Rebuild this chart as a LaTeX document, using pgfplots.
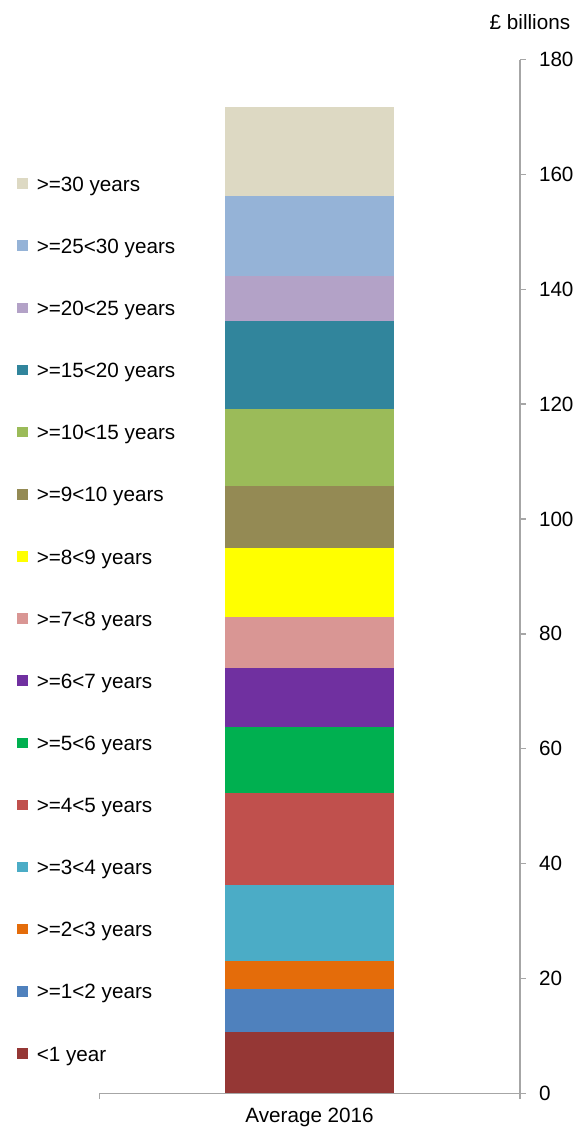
\documentclass[border=0pt]{standalone}
\usepackage{fontspec}
\setmainfont{Liberation Sans}
\usepackage{pgfplots}
\pgfplotsset{compat=1.18}
\definecolor{c1}{HTML}{953735}
\definecolor{c2}{HTML}{4F81BD}
\definecolor{c3}{HTML}{E46C0A}
\definecolor{c4}{HTML}{4BACC6}
\definecolor{c5}{HTML}{C0504D}
\definecolor{c6}{HTML}{00B050}
\definecolor{c7}{HTML}{7030A0}
\definecolor{c8}{HTML}{D99694}
\definecolor{c9}{HTML}{FFFF00}
\definecolor{c10}{HTML}{948A54}
\definecolor{c11}{HTML}{9BBB59}
\definecolor{c12}{HTML}{31859C}
\definecolor{c13}{HTML}{B3A2C7}
\definecolor{c14}{HTML}{95B3D7}
\definecolor{c15}{HTML}{DDD9C3}
\definecolor{axgray}{HTML}{A6A6A6}
\pgfplotsset{sq/.style={fill=#1, draw=none,
  legend image code/.code={\fill[#1] (0pt,-1.15pt) rectangle (5.3pt,4.15pt);}}}
\newcommand{\fs}{\fontsize{10.4}{12.5}\selectfont}
\begin{document}
\fs
\begin{tikzpicture}
\begin{axis}[
  scale only axis, width=211.5pt, height=520pt,
  ybar stacked, bar width=1,
  xmin=-1.245, xmax=1.245, ymin=0, ymax=180,
  axis y line*=right, axis x line*=bottom,
  ytick={0,20,...,180},
  xtick={0}, xticklabels={Average 2016},
  xtick style={draw=none},
  extra x ticks={-1.245,1.245}, extra x tick labels={},
  extra x tick style={xtick style={draw=axgray, line width=0.75pt}},
  ytick style={draw=axgray, line width=0.75pt},
  tick align=outside, major tick length=3pt,
  axis line style={draw=axgray, line width=0.75pt},
  /pgf/number format/assume math mode=true,
  ticklabel style={font=\fs, text=black},
  yticklabel style={xshift=3pt},
  xticklabel style={yshift=-1pt},
  clip=false,
  reverse legend,
  legend cell align=left,
  legend style={at={(0,1)}, anchor=north west, xshift=-41.5pt, yshift=-59.5pt,
    draw=none, fill=none, inner sep=0pt, row sep=22.96pt,
    font=\fs,
    nodes={inner sep=0pt, text height=6.5pt, text depth=1.8pt},
    /tikz/every odd column/.append style={column sep=4.5pt}},
]
\addplot[sq=c1] coordinates {(0,10.7)};
\addlegendentry{<1 year}
\addplot[sq=c2] coordinates {(0,7.4)};
\addlegendentry{>=1<2 years}
\addplot[sq=c3] coordinates {(0,4.9)};
\addlegendentry{>=2<3 years}
\addplot[sq=c4] coordinates {(0,13.3)};
\addlegendentry{>=3<4 years}
\addplot[sq=c5] coordinates {(0,16.0)};
\addlegendentry{>=4<5 years}
\addplot[sq=c6] coordinates {(0,11.4)};
\addlegendentry{>=5<6 years}
\addplot[sq=c7] coordinates {(0,10.4)};
\addlegendentry{>=6<7 years}
\addplot[sq=c8] coordinates {(0,8.8)};
\addlegendentry{>=7<8 years}
\addplot[sq=c9] coordinates {(0,12.1)};
\addlegendentry{>=8<9 years}
\addplot[sq=c10] coordinates {(0,10.7)};
\addlegendentry{>=9<10 years}
\addplot[sq=c11] coordinates {(0,13.4)};
\addlegendentry{>=10<15 years}
\addplot[sq=c12] coordinates {(0,15.4)};
\addlegendentry{>=15<20 years}
\addplot[sq=c13] coordinates {(0,7.8)};
\addlegendentry{>=20<25 years}
\addplot[sq=c14] coordinates {(0,13.9)};
\addlegendentry{>=25<30 years}
\addplot[sq=c15] coordinates {(0,15.5)};
\addlegendentry{>=30 years}
\node[anchor=east, font=\fs] at ([xshift=29pt,yshift=19pt]rel axis cs:1,1) {£ billions};
\coordinate (bbsw) at ([xshift=-50pt,yshift=-20pt]rel axis cs:0,0);
\coordinate (bbne) at ([xshift=33.5pt,yshift=30pt]rel axis cs:1,1);
\end{axis}
\pgfresetboundingbox
\path[use as bounding box] (bbsw) rectangle (bbne);
\end{tikzpicture}
\end{document}
